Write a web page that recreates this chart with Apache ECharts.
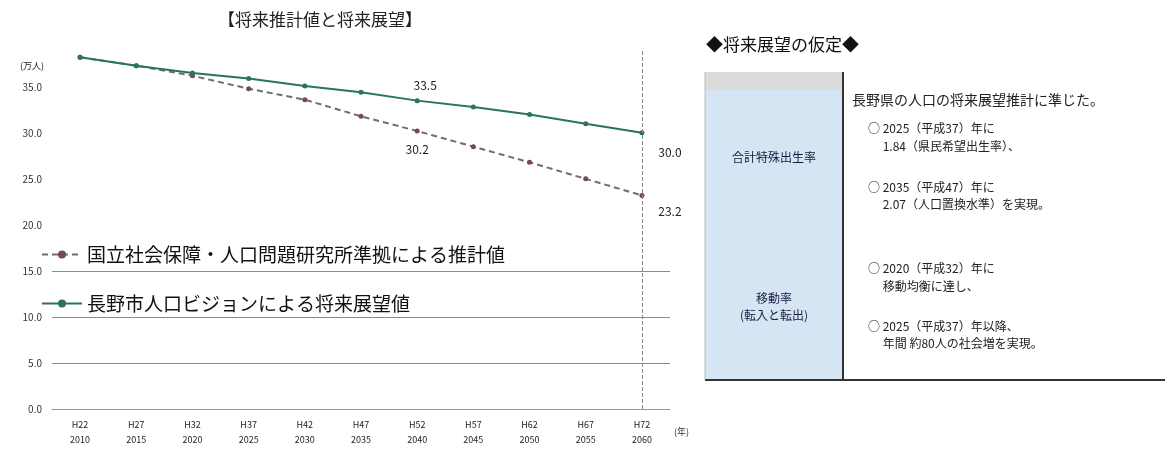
<!DOCTYPE html>
<html>
<head>
<meta charset="utf-8">
<script src="https://cdn.jsdelivr.net/npm/echarts@6/dist/echarts.min.js"></script>
<style>
  html, body { margin: 0; padding: 0; background: #fff; }
  #main { width: 1172px; height: 450px; }
</style>
</head>
<body>
<div id="main"></div>
<script>
// categories: Heisei era + western year
const years = ["H22\n2010", "H27\n2015", "H32\n2020", "H37\n2025", "H42\n2030", "H47\n2035",
               "H52\n2040", "H57\n2045", "H62\n2050", "H67\n2055", "H72\n2060"]

// population, 10k persons
const ipssValues   = [38.2, 37.3, 36.2, 34.8, 33.6, 31.8, 30.2, 28.5, 26.8, 25.0, 23.2]
const visionValues = [38.2, 37.3, 36.5, 35.9, 35.1, 34.4, 33.5, 32.8, 32.0, 31.0, 30.0]

const seriesNames = ["国立社会保障・人口問題研究所準拠による推計値", "長野市人口ビジョンによる将来展望値"]

// right-hand assumptions table text
const assumeTitle = "◆将来展望の仮定◆"
const rowHeads = ["合計特殊出生率", "移動率\n(転入と転出)"]
const birthLines = [
  "長野県の人口の将来展望推計に準じた。",
  "○ 2025（平成37）年に",
  "　 1.84（県民希望出生率）、",
  "○ 2035（平成47）年に",
  "　 2.07（人口置換水準）を実現。"
]
const moveLines = [
  "○ 2020（平成32）年に",
  "　 移動均衡に達し、",
  "○ 2025（平成37）年以降、",
  "　 年間 約80人の社会増を実現。"
]

const FONT = "'Noto Sans CJK JP', 'Noto Sans', sans-serif"
const last = years.length - 1

function withLabels(vals, labelAt) {
  return vals.map((v, i) => labelAt[i] ? { value: v, label: Object.assign({ show: true }, labelAt[i]) } : v)
}

const chart = echarts.init(document.getElementById("main"), null, { renderer: "canvas" })

const labelFont = { color: "#222", fontSize: 12, fontFamily: FONT, formatter: p => p.value.toFixed(1) }

const tableGraphics = []
// outer table pieces
tableGraphics.push({ type: "rect", shape: { x: 705, y: 72, width: 138, height: 308 }, style: { fill: "#d5e5f3" }, silent: true })
tableGraphics.push({ type: "rect", shape: { x: 705, y: 72, width: 138, height: 18 }, style: { fill: "#dcdcdc" }, silent: true })
tableGraphics.push({ type: "line", shape: { x1: 843, y1: 72, x2: 843, y2: 380 }, style: { stroke: "#333", lineWidth: 2 }, silent: true })
tableGraphics.push({ type: "line", shape: { x1: 705, y1: 380, x2: 1165, y2: 380 }, style: { stroke: "#333", lineWidth: 2 }, silent: true })
tableGraphics.push({ type: "line", shape: { x1: 705, y1: 72, x2: 705, y2: 380 }, style: { stroke: "#bbb", lineWidth: 1 }, silent: true })
tableGraphics.push({ type: "text", left: 706, top: 36, style: { text: assumeTitle, fontSize: 17, fontFamily: FONT, fill: "#111" } })
tableGraphics.push({ type: "text", x: 774, y: 157, style: { text: rowHeads[0], fontSize: 12, fontFamily: FONT, fill: "#1a1a40", align: "center", verticalAlign: "middle" } })
tableGraphics.push({ type: "text", x: 774, y: 307, style: { text: rowHeads[1], fontSize: 12, lineHeight: 17, fontFamily: FONT, fill: "#1a1a40", align: "center", verticalAlign: "middle" } })
const birthY = [100, 128, 146, 187, 204]
birthLines.forEach((t, i) => tableGraphics.push({
  type: "text", x: i === 0 ? 852 : 868, y: birthY[i],
  style: { text: t, fontSize: i === 0 ? 14 : 12, fontFamily: FONT, fill: "#222", verticalAlign: "middle" }
}))
const moveY = [268, 286, 326, 343]
moveLines.forEach((t, i) => tableGraphics.push({
  type: "text", x: 868, y: moveY[i],
  style: { text: t, fontSize: 12, fontFamily: FONT, fill: "#222", verticalAlign: "middle" }
}))

const clear = "rgba(0,0,0,0)"
const gridColors = ["#8a8a8a", "#8a8a8a", "#8a8a8a", "#8a8a8a", clear, clear, clear, clear, clear, clear]

chart.setOption({
  animation: false,
  backgroundColor: "#fff",
  textStyle: { fontFamily: FONT },
  title: {
    text: "【将来推計値と将来展望】",
    left: 315, top: 6, textAlign: "center",
    textStyle: { fontSize: 17, fontWeight: "normal", color: "#222", fontFamily: FONT }
  },
  legend: {
    orient: "vertical",
    left: 36, top: 240,
    itemGap: 30, itemWidth: 40, itemHeight: 10,
    textStyle: { fontSize: 19, color: "#111", fontFamily: FONT },
    data: seriesNames
  },
  grid: { left: 52, right: 502, top: 50, bottom: 41 },
  xAxis: {
    type: "category",
    data: years,
    boundaryGap: true,
    name: "(年)",
    nameLocation: "end",
    nameGap: 4,
    nameTextStyle: { fontSize: 9, color: "#333", verticalAlign: "top", padding: [18, 0, 0, 0] },
    axisLine: { lineStyle: { color: "#999", width: 1 } },
    axisTick: { show: false },
    axisLabel: { fontSize: 9, lineHeight: 15, color: "#222", margin: 8 }
  },
  yAxis: {
    type: "value",
    min: 0, max: 39, interval: 5,
    name: "(万人)",
    nameLocation: "end",
    nameGap: -20,
    nameTextStyle: { fontSize: 9, color: "#222", align: "right", padding: [0, 8, 0, 0] },
    axisLine: { show: false },
    axisTick: { show: false },
    axisLabel: {
      fontSize: 10, color: "#333", margin: 10,
      formatter: v => (v % 5 === 0 ? v.toFixed(1) : "")
    },
    splitLine: { show: true, lineStyle: { color: gridColors, width: 1 } }
  },
  series: [
    {
      name: seriesNames[0],
      type: "line",
      data: withLabels(ipssValues, {
        6: Object.assign({ position: "bottom", distance: 10 }, labelFont),
        [last]: Object.assign({ position: "bottom", offset: [28, 2] }, labelFont)
      }),
      symbol: "circle",
      symbolSize: 5,
      lineStyle: { color: "#6e6e6e", width: 2, type: [6, 4] },
      itemStyle: { color: "#75485a" },
      z: 3,
      markLine: {
        silent: true,
        symbol: "none",
        label: { show: false },
        lineStyle: { color: "#888", type: "dashed", width: 1 },
        data: [{ xAxis: last }]
      }
    },
    {
      name: seriesNames[1],
      type: "line",
      data: withLabels(visionValues, {
        6: Object.assign({ position: "top", offset: [8, -2] }, labelFont),
        [last]: Object.assign({ position: "bottom", offset: [28, 6] }, labelFont)
      }),
      symbol: "circle",
      symbolSize: 5,
      lineStyle: { color: "#2a7558", width: 2 },
      itemStyle: { color: "#2a7558" },
      z: 4
    }
  ],
  graphic: tableGraphics
})
</script>
</body>
</html>
